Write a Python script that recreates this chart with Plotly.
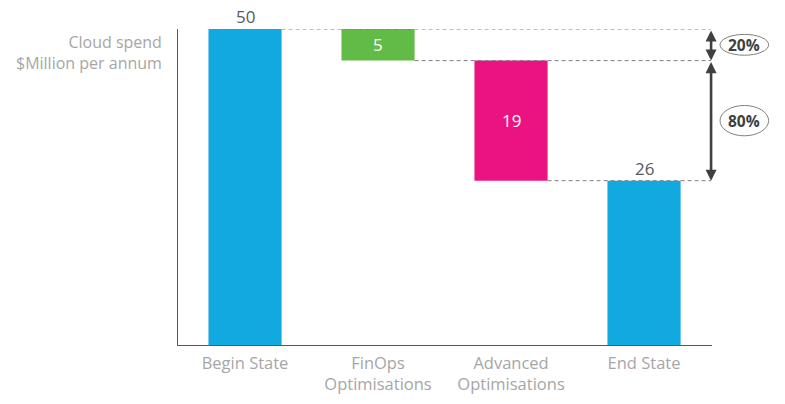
import plotly.graph_objects as go

categories = ["Begin State", "FinOps<br>Optimisations", "Advanced<br>Optimisations", "End State"]
begin_value = 50
reductions = [5, 19]
end_value = 26
shares = ["20%", "80%"]
colors = ["#12a8e0", "#62bb46", "#ea1381", "#12a8e0"]

# derived bases/heights
heights = [begin_value] + reductions + [end_value]
bases = [0]
level = begin_value
for r in reductions:
    level -= r
    bases.append(level)
bases.append(0)
tops = [b + h for b, h in zip(bases, heights)]

xs = list(range(len(categories)))
W = 0.55
XR = [-0.504, 3.511]
ARROW_X = 3.504
YMAX = 50

fig = go.Figure()
fig.add_trace(go.Bar(
    x=xs, y=heights, base=bases, width=W,
    marker=dict(color=colors, line=dict(width=0)),
    hoverinfo="skip",
))

font_family = "Open Sans, Noto Sans, sans-serif"
ann = []
shapes = []
# labels
for i, (b, h, t) in enumerate(zip(bases, heights, tops)):
    if b == 0:
        ann.append(dict(x=xs[i], y=t, text=str(h), showarrow=False, yanchor="bottom", yshift=0,
                        borderpad=0, font=dict(size=17, color="#595959", family=font_family)))
    else:
        ann.append(dict(x=xs[i], y=b + h / 2, text=str(h), showarrow=False,
                        font=dict(size=17, color="#ffffff", family=font_family)))

# dashed connector lines
levels = [tops[0]] + [bases[i] for i in range(1, 1 + len(reductions))]
starts = [xs[i] + W / 2 for i in range(0, 1 + len(reductions))]
for lv, x0 in zip(levels, starts):
    shapes.append(dict(type="line", xref="x", yref="y", x0=x0, x1=ARROW_X, y0=lv, y1=lv,
                       line=dict(color="#7f7f7f", width=1, dash="4px,3px")))

# double arrows and ovals (ovals placed in paper coords, to the right of the plot)
for k in range(len(reductions)):
    y_top, y_bot = levels[k], levels[k + 1]
    ann.append(dict(x=ARROW_X, y=y_bot, ax=ARROW_X, ay=y_top, xref="x", yref="y", axref="x", ayref="y",
                    text="", showarrow=True, arrowhead=2, startarrowhead=2, arrowside="end+start",
                    arrowsize=0.85, startarrowsize=0.85, arrowwidth=2.6, arrowcolor="#404040",
                    standoff=0, startstandoff=0))
    mid = (y_top + y_bot) / 2 / YMAX
    hh = 0.033 if k == 0 else 0.048
    shapes.append(dict(type="circle", xref="paper", yref="paper", x0=1.015, x1=1.106, y0=mid - hh, y1=mid + hh,
                       line=dict(color="#7f7f7f", width=1), fillcolor="rgba(0,0,0,0)"))
    ann.append(dict(x=1.0605, y=mid, xref="paper", yref="paper", xanchor="center", yanchor="middle",
                    text="<b>" + shares[k] + "</b>",
                    showarrow=False, font=dict(size=15.5, color="#404040", family=font_family)))

# y title
ann.append(dict(xref="paper", yref="paper", x=-0.027, y=1.0, xanchor="right", yanchor="top", align="right",
                text="Cloud spend<br>$Million per annum", showarrow=False,
                font=dict(size=16, color="#a6a6a6", family=font_family)))

fig.update_layout(
    width=777, height=396,
    margin=dict(l=170, r=73, t=21, b=59),
    paper_bgcolor="white", plot_bgcolor="white",
    showlegend=False,
    annotations=ann, shapes=shapes,
    xaxis=dict(range=XR, tickvals=xs, ticktext=categories, showgrid=False, zeroline=False,
               showline=True, linecolor="#595959", linewidth=1, ticks="outside", ticklen=3,
               tickcolor="rgba(0,0,0,0)", automargin=False,
               tickfont=dict(size=16.5, color="#a6a6a6", family=font_family)),
    yaxis=dict(range=[0, YMAX], showgrid=False, zeroline=False, showticklabels=False,
               showline=True, linecolor="#595959", linewidth=1, ticks="", automargin=False),
)

fig.write_html("out.html")
